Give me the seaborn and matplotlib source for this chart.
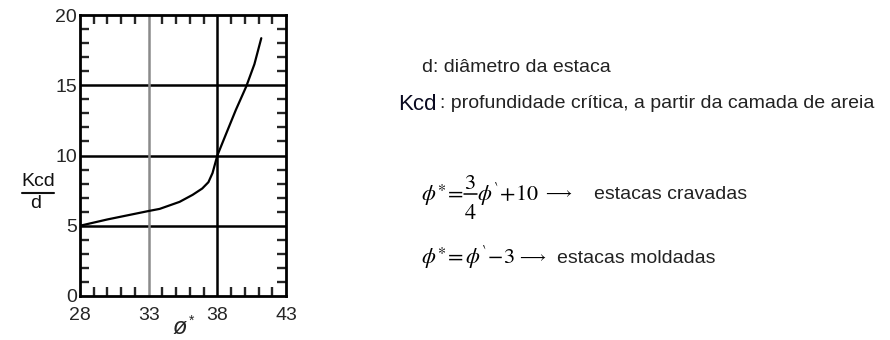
import matplotlib
matplotlib.use("Agg")
import matplotlib.pyplot as plt
import seaborn as sns
import pandas as pd
from matplotlib.ticker import MultipleLocator
from matplotlib.mathtext import MathTextParser

# curve: phi* vs Kcd/d
phi = [28, 30, 32, 33, 33.8, 35.25, 36.2, 36.9, 37.35, 37.65, 38, 38.6, 39.35, 40.1, 40.7, 41.2]
kcd_d = [5, 5.45, 5.85, 6.05, 6.2, 6.7, 7.2, 7.65, 8.1, 8.75, 10, 11.45, 13.25, 14.9, 16.5, 18.35]

x_ticks = [28, 33, 38, 43]
y_ticks = [0, 5, 10, 15, 20]
h_grid = [5, 10, 15]

sns.set_style("white")
plt.rcParams['font.family'] = ['Liberation Sans', 'DejaVu Sans']
plt.rcParams['mathtext.fontset'] = 'stix'


def safe_math(candidates):
    # return the first mathtext string that parses
    parser = MathTextParser('path')
    for s in candidates:
        try:
            parser.parse(s)
            return s
        except ValueError:
            continue
    return candidates[-1]


def px(x, y):
    # pixel coords (from top-left) -> figure fraction
    return x / 890, 1 - y / 340


phi_grave = safe_math([r'$\phi^{‵}$', r'$\phi^{\prime}$'])[1:-1]
arrow = safe_math([r'$\longrightarrow$', r'$\rightarrow$'])

df = pd.DataFrame({'phi': phi, 'kcd_d': kcd_d})

fig = plt.figure(figsize=(8.9, 3.4), dpi=100)
ax = fig.add_axes([80 / 890, 44 / 340, 206 / 890, 281 / 340])

for y in h_grid:
    ax.axhline(y, color='black', linewidth=1.8, zorder=1)
ax.axvline(33, color='#8a8a8a', linewidth=1.8, zorder=1)
ax.axvline(38, color='black', linewidth=1.8, zorder=1)

sns.lineplot(data=df, x='phi', y='kcd_d', ax=ax, color='black', linewidth=1.6, zorder=3)

ax.set_xlim(28, 43)
ax.set_ylim(0, 20)
ax.set_xticks(x_ticks)
ax.set_yticks(y_ticks)
ax.xaxis.set_minor_locator(MultipleLocator(1))
ax.yaxis.set_minor_locator(MultipleLocator(1))
ax.tick_params(which='major', direction='in', length=0, labelsize=14)
ax.tick_params(axis='x', which='major', pad=8)
ax.tick_params(axis='y', which='major', pad=2)
ax.tick_params(which='minor', direction='in', length=6.5, width=1.7,
               top=True, bottom=True, left=True, right=True)
for s in ax.spines.values():
    s.set_color('black')
    s.set_linewidth(2)

ax.set_xlabel('')
ax.set_ylabel('')
fig.text(*px(180, 328), 'ø', fontsize=17, ha='center', va='center', style='italic')
fig.text(*px(192, 321), '*', fontsize=10, ha='center', va='center')
fig.text(*px(38, 182), 'Kcd', fontsize=14, ha='center', va='center', color='#111111')
fig.text(*px(36, 204), 'd', fontsize=14, ha='center', va='center', color='#111111')
fig.add_artist(plt.Line2D([22 / 890, 54 / 890], [1 - 193 / 340, 1 - 193 / 340],
                          color='#111111', linewidth=1.5))

# explanatory text on the right
txt = '#222222'
fig.text(*px(422, 67), 'd: diâmetro da estaca', fontsize=14, va='center', color=txt)
fig.text(*px(398, 104), 'Kcd', fontsize=16, va='center', color='#0a0a20')
fig.text(*px(440, 103), ': profundidade crítica, a partir da camada de areia',
         fontsize=14, va='center', color=txt)

# first formula, fraction put together by hand so it is full size
fig.text(*px(421, 201), r'$\phi^{\ast}\!=$', fontsize=16, va='baseline', color='black')
fig.text(*px(470, 189), r'$3$', fontsize=16, ha='center', va='baseline', color='black')
fig.text(*px(470, 219), r'$4$', fontsize=16, ha='center', va='baseline', color='black')
fig.add_artist(plt.Line2D([464 / 890, 477 / 890], [1 - 194 / 340, 1 - 194 / 340],
                          color='black', linewidth=1.1))
fig.text(*px(477, 201), '$' + phi_grave + r'\!+\!10$', fontsize=16,
         va='baseline', color='black')
fig.text(*px(543, 197), arrow, fontsize=12, va='baseline', color='black')
fig.text(*px(594, 199), 'estacas cravadas', fontsize=14, va='baseline', color=txt)

# second formula
fig.text(*px(421, 264), '$\\phi^{\\ast}\\!=' + phi_grave + r'\!-\!3$',
         fontsize=16, va='baseline', color='black')
fig.text(*px(517, 261), arrow, fontsize=12, va='baseline', color='black')
fig.text(*px(557, 263), 'estacas moldadas', fontsize=14, va='baseline', color=txt)

fig.savefig('out.png', dpi=100)
